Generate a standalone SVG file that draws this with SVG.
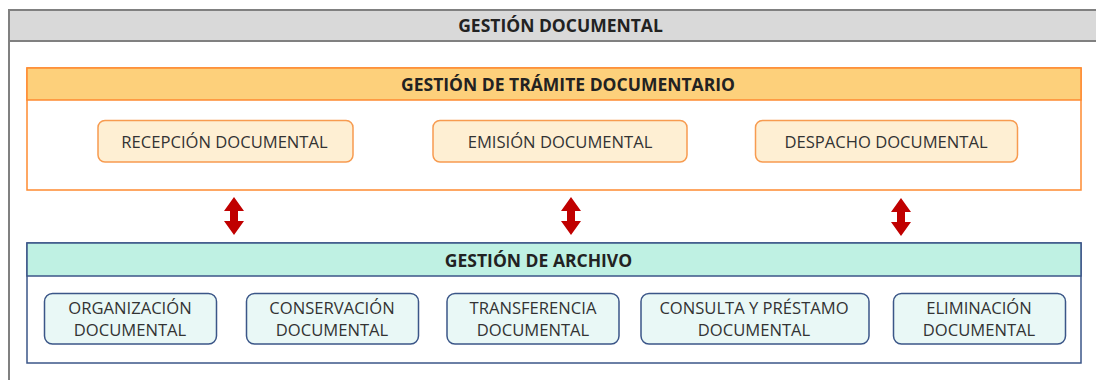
<svg xmlns="http://www.w3.org/2000/svg" width="1096" height="380" viewBox="0 0 1096 380">
<defs>
<style>
text{font-family:"Open Sans","Noto Sans","DejaVu Sans",sans-serif;fill:#333;text-anchor:middle}
.h{font-weight:bold;font-size:17.5px;fill:#222}
.n{font-size:16.6px}
.on{fill:#feefd3;stroke:#f79b50;stroke-width:1.5}
.tn{fill:#e9f8f6;stroke:#3b5688;stroke-width:1.5}
.arr{fill:#c00000}
</style>
<path id="dbl" d="M0,-19 L10,-5 L4,-5 L4,5 L10,5 L0,19 L-10,5 L-4,5 L-4,-5 L-10,-5 Z"/>
</defs>
<rect width="1096" height="380" fill="#fff"/>
<g id="gestion-documental">
<rect x="9" y="10" width="1100" height="380" fill="#fff" stroke="#808080" stroke-width="2"/>
<rect x="9" y="10" width="1100" height="31" fill="#d9d9d9" stroke="#808080" stroke-width="2"/>
<text class="h" x="560.5" y="32">GESTIÓN DOCUMENTAL</text>
</g>
<g id="tramite">
<rect x="27" y="68" width="1054" height="122" fill="#fff" stroke="#fe8a30" stroke-width="1.5"/>
<rect x="27" y="68" width="1054" height="32" fill="#fdd07b" stroke="#fe8a30" stroke-width="1.5"/>
<text class="h" x="568" y="90.5">GESTIÓN DE TRÁMITE DOCUMENTARIO</text>
</g>
<g id="recepcion"><rect class="on" x="98" y="120.5" width="255" height="41.5" rx="7"/><text class="n" x="224.5" y="148">RECEPCIÓN DOCUMENTAL</text></g>
<g id="emision"><rect class="on" x="433" y="120.5" width="254" height="41.5" rx="7"/><text class="n" x="560" y="148">EMISIÓN DOCUMENTAL</text></g>
<g id="despacho"><rect class="on" x="755.5" y="120.5" width="262" height="41.5" rx="7"/><text class="n" x="886" y="148">DESPACHO DOCUMENTAL</text></g>
<g id="archivo">
<rect x="27" y="243" width="1054" height="120" fill="#fff" stroke="#3b5688" stroke-width="1.5"/>
<rect x="27" y="243" width="1054" height="33" fill="#bff1e3" stroke="#3b5688" stroke-width="1.5"/>
<text class="h" x="538.5" y="266.5">GESTIÓN DE ARCHIVO</text>
</g>
<g id="organizacion"><rect class="tn" x="44.5" y="293.5" width="172" height="50.5" rx="8"/><text class="n" x="130" y="314">ORGANIZACIÓN</text><text class="n" x="130" y="336">DOCUMENTAL</text></g>
<g id="conservacion"><rect class="tn" x="246.5" y="293.5" width="172" height="50.5" rx="8"/><text class="n" x="332" y="314">CONSERVACIÓN</text><text class="n" x="332" y="336">DOCUMENTAL</text></g>
<g id="transferencia"><rect class="tn" x="447" y="293.5" width="172" height="50.5" rx="8"/><text class="n" x="533" y="314">TRANSFERENCIA</text><text class="n" x="533" y="336">DOCUMENTAL</text></g>
<g id="consulta"><rect class="tn" x="641" y="293.5" width="228" height="50.5" rx="8"/><text class="n" x="754" y="314">CONSULTA Y PRÉSTAMO</text><text class="n" x="754" y="336">DOCUMENTAL</text></g>
<g id="eliminacion"><rect class="tn" x="893.5" y="293.5" width="172" height="50.5" rx="8"/><text class="n" x="979" y="314">ELIMINACIÓN</text><text class="n" x="979" y="336">DOCUMENTAL</text></g>
<g id="connectors">
<use href="#dbl" class="arr" x="234" y="216"/>
<use href="#dbl" class="arr" x="571" y="216"/>
<use href="#dbl" class="arr" x="901" y="217"/>
</g>
</svg>
